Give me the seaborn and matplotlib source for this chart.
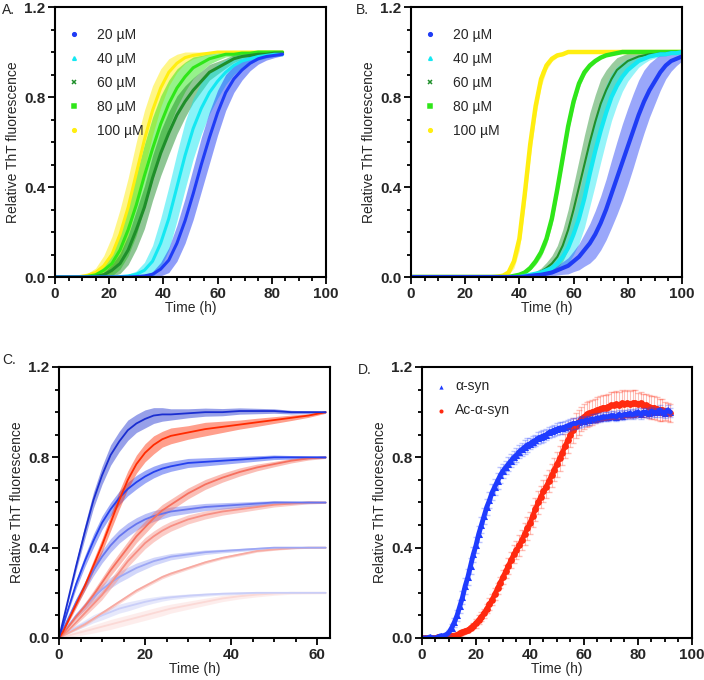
import numpy as np
import seaborn as sns
import matplotlib.pyplot as plt
from matplotlib.ticker import MultipleLocator
from matplotlib.lines import Line2D

sns.set_style('ticks')
plt.rcParams['font.family'] = ['Liberation Sans', 'DejaVu Sans']
plt.rcParams['font.weight'] = 'bold'  # tick labels bold, other text set back to normal

# ---------------- data ----------------
conc_labels = ['20 µM', '40 µM', '60 µM', '80 µM', '100 µM']
conc_colors = ['#1f3cf5', '#14e8f2', '#1f8f2a', '#2fe619', '#ffee10']
conc_markers = ['o', '^', 'x', 's', 'o']

# panel A
time_a = [0, 3, 6, 9, 12, 15, 18, 21, 24, 27, 30, 33, 36, 39, 42, 45, 48, 51, 54, 57,
          60, 63, 66, 69, 72, 75, 78, 81, 84]
a_20 = [0, 0, 0, 0, 0, 0, 0, 0, 0, 0, 0.002, 0.005, 0.012, 0.035, 0.075, 0.15, 0.25, 0.37,
        0.50, 0.62, 0.73, 0.82, 0.88, 0.92, 0.95, 0.97, 0.98, 0.985, 0.99]
a_20_sd = [0, 0, 0, 0, 0, 0, 0, 0, 0, 0, 0.002, 0.005, 0.012, 0.03, 0.055, 0.08, 0.1, 0.115,
           0.12, 0.115, 0.1, 0.08, 0.06, 0.045, 0.033, 0.024, 0.016, 0.01, 0.006]
a_40 = [0, 0, 0, 0, 0, 0, 0, 0, 0.002, 0.005, 0.012, 0.03, 0.07, 0.15, 0.26, 0.40, 0.54, 0.66,
        0.75, 0.82, 0.87, 0.91, 0.94, 0.96, 0.97, 0.98, 0.985, 0.99, 0.99]
a_40_sd = [0, 0, 0, 0, 0, 0, 0, 0, 0.003, 0.007, 0.015, 0.035, 0.07, 0.11, 0.14, 0.15, 0.15,
           0.135, 0.115, 0.095, 0.075, 0.055, 0.04, 0.03, 0.022, 0.016, 0.012, 0.01, 0.008]
a_60 = [0, 0, 0, 0, 0, 0.003, 0.01, 0.03, 0.06, 0.12, 0.21, 0.31, 0.44, 0.55, 0.64, 0.72, 0.78,
        0.83, 0.87, 0.91, 0.93, 0.95, 0.97, 0.98, 0.985, 0.99, 0.99, 0.995, 0.995]
a_60_sd = [0, 0, 0, 0, 0, 0.004, 0.012, 0.025, 0.045, 0.065, 0.085, 0.095, 0.1, 0.1, 0.095,
           0.085, 0.07, 0.055, 0.045, 0.035, 0.028, 0.022, 0.017, 0.012, 0.009, 0.007, 0.005,
           0.004, 0.003]
a_80 = [0, 0, 0, 0, 0.003, 0.01, 0.03, 0.06, 0.12, 0.21, 0.32, 0.45, 0.57, 0.68, 0.77, 0.84, 0.89,
        0.93, 0.95, 0.97, 0.98, 0.99, 0.99, 0.995, 0.995, 1.0, 1.0, 1.0, 1.0]
a_80_sd = [0, 0, 0, 0, 0.004, 0.012, 0.03, 0.055, 0.085, 0.115, 0.135, 0.14, 0.14, 0.125, 0.105,
           0.085, 0.065, 0.048, 0.035, 0.024, 0.017, 0.012, 0.009, 0.007, 0.005, 0.004, 0.003,
           0.002, 0.002]
a_100 = [0, 0, 0, 0.002, 0.008, 0.02, 0.05, 0.10, 0.19, 0.31, 0.46, 0.61, 0.74, 0.84, 0.91, 0.95,
         0.975, 0.985, 0.99, 0.995, 1.0, 1.0, 1.0, 1.0, 1.0, 1.0, 1.0, 1.0, 1.0]
a_100_sd = [0, 0, 0, 0.002, 0.008, 0.02, 0.045, 0.08, 0.11, 0.13, 0.14, 0.13, 0.11, 0.085, 0.06,
            0.04, 0.025, 0.015, 0.01, 0.005, 0, 0, 0, 0, 0, 0, 0, 0, 0]

# panel B
time_b = [0, 10, 20, 30, 32, 34, 36, 38, 40, 42, 44, 46, 48, 50, 52, 54, 56, 58, 60, 62,
          64, 66, 68, 70, 72, 74, 76, 78, 80, 82, 84, 86, 88, 90, 92, 94, 96, 98, 100]
b_20 = [0, 0, 0, 0, 0, 0, 0, 0, 0, 0.002, 0.005, 0.008, 0.01, 0.015, 0.02, 0.03, 0.04, 0.05,
        0.07, 0.09, 0.12, 0.15, 0.19, 0.24, 0.30, 0.37, 0.44, 0.51, 0.58, 0.65, 0.72, 0.78,
        0.83, 0.87, 0.91, 0.94, 0.96, 0.97, 0.98]
b_20_sd = [0, 0, 0, 0, 0, 0, 0, 0, 0, 0.001, 0.003, 0.005, 0.008, 0.012, 0.016, 0.021, 0.028,
           0.036, 0.046, 0.058, 0.072, 0.088, 0.105, 0.12, 0.135, 0.15, 0.162, 0.17, 0.17,
           0.165, 0.155, 0.14, 0.12, 0.1, 0.08, 0.06, 0.045, 0.03, 0.02]
b_40 = [0, 0, 0, 0, 0, 0, 0, 0, 0, 0.005, 0.01, 0.015, 0.02, 0.03, 0.04, 0.06, 0.09, 0.13,
        0.19, 0.26, 0.35, 0.46, 0.56, 0.65, 0.73, 0.80, 0.85, 0.89, 0.92, 0.94, 0.96, 0.97,
        0.98, 0.985, 0.99, 0.99, 0.995, 0.995, 1.0]
b_40_sd = [0, 0, 0, 0, 0, 0, 0, 0, 0, 0.003, 0.006, 0.009, 0.012, 0.018, 0.025, 0.035, 0.05,
           0.07, 0.09, 0.11, 0.13, 0.145, 0.15, 0.14, 0.125, 0.105, 0.085, 0.065, 0.05, 0.038,
           0.028, 0.02, 0.015, 0.012, 0.009, 0.007, 0.005, 0.004, 0.002]
b_60 = [0, 0, 0, 0, 0, 0, 0, 0, 0, 0.005, 0.01, 0.015, 0.025, 0.04, 0.06, 0.09, 0.14, 0.21,
        0.30, 0.40, 0.50, 0.60, 0.69, 0.77, 0.83, 0.88, 0.92, 0.94, 0.96, 0.97, 0.98, 0.985,
        0.99, 0.99, 0.995, 0.995, 1.0, 1.0, 1.0]
b_60_sd = [0, 0, 0, 0, 0, 0, 0, 0, 0, 0.003, 0.006, 0.01, 0.015, 0.025, 0.035, 0.05, 0.07,
           0.09, 0.11, 0.12, 0.13, 0.13, 0.12, 0.11, 0.09, 0.07, 0.055, 0.045, 0.035, 0.025,
           0.02, 0.015, 0.01, 0.008, 0.005, 0.004, 0.002, 0, 0]
b_80 = [0, 0, 0, 0, 0, 0, 0, 0.005, 0.01, 0.02, 0.04, 0.07, 0.11, 0.17, 0.26, 0.39, 0.53,
        0.67, 0.78, 0.86, 0.91, 0.94, 0.96, 0.975, 0.985, 0.99, 0.995, 1.0, 1.0, 1.0, 1.0,
        1.0, 1.0, 1.0, 1.0, 1.0, 1.0, 1.0, 1.0]
b_80_sd = [0, 0, 0, 0, 0, 0, 0, 0.002, 0.004, 0.006, 0.01, 0.015, 0.02, 0.025, 0.03, 0.03,
           0.03, 0.03, 0.025, 0.02, 0.015, 0.01, 0.008, 0.006, 0.004, 0.003, 0.002, 0, 0, 0,
           0, 0, 0, 0, 0, 0, 0, 0, 0]
b_100 = [0, 0, 0, 0, 0.002, 0.006, 0.02, 0.07, 0.17, 0.37, 0.59, 0.76, 0.88, 0.94, 0.97,
         0.985, 0.99, 1.0, 1.0, 1.0, 1.0, 1.0, 1.0, 1.0, 1.0, 1.0, 1.0, 1.0, 1.0, 1.0, 1.0,
         1.0, 1.0, 1.0, 1.0, 1.0, 1.0, 1.0, 1.0]
b_100_sd = [0, 0, 0, 0, 0.002, 0.005, 0.01, 0.03, 0.05, 0.06, 0.06, 0.05, 0.035, 0.02,
            0.012, 0.008, 0.005, 0, 0, 0, 0, 0, 0, 0, 0, 0, 0, 0, 0, 0, 0, 0, 0, 0, 0, 0,
            0, 0, 0]

# panel C (scaled curves, alpha-syn blue / Ac-alpha-syn red)
time_c = [0, 1, 2, 3, 4, 6, 8, 10, 12, 14, 16, 18, 20, 22, 24, 26, 30, 34, 38, 42, 46, 50,
          54, 58, 62]
c_blue_10 = [0, 0.08, 0.16, 0.24, 0.32, 0.47, 0.61, 0.72, 0.81, 0.87, 0.92, 0.95, 0.97,
             0.985, 0.99, 0.99, 0.995, 1.0, 1.0, 1.005, 1.005, 1.005, 1.0, 1.0, 1.0]
c_blue_10_sd = [0, 0.005, 0.01, 0.015, 0.02, 0.03, 0.035, 0.04, 0.045, 0.045, 0.045, 0.04,
                0.04, 0.035, 0.03, 0.025, 0.02, 0.018, 0.016, 0.014, 0.012, 0.01, 0.008,
                0.006, 0.004]
c_blue_08 = [0, 0.06, 0.12, 0.18, 0.24, 0.34, 0.43, 0.51, 0.57, 0.62, 0.66, 0.69, 0.715,
             0.735, 0.75, 0.76, 0.775, 0.78, 0.785, 0.79, 0.795, 0.8, 0.8, 0.8, 0.8]
c_blue_08_sd = [0, 0.005, 0.01, 0.015, 0.02, 0.025, 0.03, 0.03, 0.03, 0.03, 0.03, 0.03,
                0.028, 0.026, 0.024, 0.022, 0.02, 0.018, 0.016, 0.014, 0.012, 0.01, 0.008,
                0.006, 0.005]
c_blue_06 = [0, 0.04, 0.08, 0.12, 0.16, 0.23, 0.30, 0.36, 0.41, 0.45, 0.48, 0.505, 0.525,
             0.54, 0.55, 0.56, 0.57, 0.58, 0.585, 0.59, 0.595, 0.6, 0.6, 0.6, 0.6]
c_blue_06_sd = [0, 0.004, 0.008, 0.012, 0.016, 0.02, 0.025, 0.028, 0.03, 0.03, 0.03, 0.028,
                0.026, 0.024, 0.022, 0.02, 0.018, 0.016, 0.014, 0.012, 0.01, 0.008, 0.006,
                0.005, 0.004]
c_blue_04 = [0, 0.025, 0.05, 0.075, 0.1, 0.14, 0.18, 0.215, 0.245, 0.27, 0.29, 0.31, 0.325,
             0.34, 0.35, 0.36, 0.37, 0.38, 0.385, 0.39, 0.395, 0.4, 0.4, 0.4, 0.4]
c_blue_04_sd = [0, 0.003, 0.006, 0.009, 0.012, 0.016, 0.02, 0.022, 0.024, 0.024, 0.024,
                0.022, 0.02, 0.018, 0.016, 0.014, 0.012, 0.01, 0.008, 0.007, 0.006, 0.005,
                0.004, 0.003, 0.003]
c_blue_02 = [0, 0.012, 0.024, 0.035, 0.046, 0.065, 0.085, 0.10, 0.115, 0.13, 0.14, 0.15,
             0.16, 0.168, 0.175, 0.18, 0.187, 0.192, 0.196, 0.198, 0.2, 0.2, 0.2, 0.2, 0.2]
c_blue_02_sd = [0, 0.003, 0.006, 0.009, 0.012, 0.015, 0.018, 0.02, 0.02, 0.02, 0.02, 0.018,
                0.016, 0.014, 0.012, 0.01, 0.008, 0.007, 0.006, 0.005, 0.004, 0.003, 0.003,
                0.002, 0.002]
c_red_10 = [0, 0.03, 0.07, 0.11, 0.15, 0.23, 0.32, 0.41, 0.51, 0.61, 0.70, 0.77, 0.82, 0.855,
            0.88, 0.895, 0.91, 0.925, 0.935, 0.945, 0.955, 0.965, 0.975, 0.985, 1.0]
c_red_10_sd = [0, 0.004, 0.008, 0.012, 0.015, 0.02, 0.025, 0.03, 0.035, 0.04, 0.04, 0.04,
               0.04, 0.04, 0.035, 0.035, 0.03, 0.03, 0.025, 0.02, 0.018, 0.015, 0.012, 0.008,
               0.005]
c_red_08 = [0, 0.02, 0.045, 0.07, 0.095, 0.14, 0.19, 0.245, 0.30, 0.35, 0.40, 0.45, 0.49,
            0.53, 0.565, 0.59, 0.64, 0.68, 0.71, 0.735, 0.755, 0.77, 0.785, 0.795, 0.8]
c_red_08_sd = [0, 0.003, 0.006, 0.009, 0.012, 0.016, 0.02, 0.022, 0.025, 0.027, 0.028, 0.028,
               0.028, 0.027, 0.026, 0.025, 0.024, 0.022, 0.02, 0.018, 0.015, 0.012, 0.01,
               0.007, 0.005]
c_red_06 = [0, 0.015, 0.03, 0.05, 0.07, 0.11, 0.15, 0.19, 0.24, 0.29, 0.34, 0.38, 0.42, 0.45,
            0.475, 0.495, 0.525, 0.545, 0.56, 0.57, 0.58, 0.59, 0.595, 0.6, 0.6]
c_red_06_sd = [0, 0.003, 0.006, 0.008, 0.01, 0.014, 0.018, 0.02, 0.022, 0.024, 0.025, 0.025,
               0.025, 0.024, 0.023, 0.022, 0.02, 0.018, 0.016, 0.014, 0.012, 0.01, 0.008,
               0.006, 0.004]
c_red_04 = [0, 0.01, 0.02, 0.03, 0.04, 0.06, 0.085, 0.11, 0.135, 0.16, 0.185, 0.21, 0.23,
            0.25, 0.27, 0.285, 0.31, 0.335, 0.355, 0.37, 0.385, 0.392, 0.397, 0.4, 0.4]
c_red_04_sd = [0, 0.002, 0.003, 0.004, 0.005, 0.006, 0.007, 0.008, 0.008, 0.008, 0.008,
               0.008, 0.008, 0.008, 0.008, 0.008, 0.007, 0.007, 0.006, 0.006, 0.005, 0.004,
               0.003, 0.003, 0.002]
c_red_02 = [0, 0.005, 0.01, 0.015, 0.02, 0.03, 0.04, 0.05, 0.06, 0.07, 0.08, 0.09, 0.10,
            0.11, 0.12, 0.13, 0.145, 0.16, 0.175, 0.185, 0.192, 0.197, 0.2, 0.2, 0.2]
c_red_02_sd = [0, 0.003, 0.006, 0.009, 0.012, 0.015, 0.018, 0.02, 0.022, 0.022, 0.022,
               0.022, 0.022, 0.022, 0.022, 0.02, 0.018, 0.016, 0.014, 0.012, 0.01, 0.008,
               0.006, 0.005, 0.004]

# panel D (raw kinetics, one point per hour)
time_d = list(range(0, 93))
d_syn = [0.0, 0.0, 0.0, 0.005, 0.0, 0.0, 0.005, 0.01, 0.01, 0.015,
         0.025, 0.045, 0.07, 0.10, 0.14, 0.18, 0.23, 0.27, 0.32, 0.37,
         0.41, 0.46, 0.50, 0.54, 0.58, 0.61, 0.645, 0.67, 0.695, 0.72,
         0.74, 0.755, 0.77, 0.785, 0.80, 0.81, 0.825, 0.835, 0.845, 0.855,
         0.86, 0.87, 0.875, 0.885, 0.89, 0.895, 0.90, 0.91, 0.915, 0.92,
         0.925, 0.93, 0.93, 0.935, 0.94, 0.945, 0.95, 0.95, 0.955, 0.96,
         0.96, 0.965, 0.965, 0.97, 0.97, 0.975, 0.975, 0.98, 0.98, 0.98,
         0.985, 0.985, 0.98, 0.99, 0.985, 0.99, 0.99, 0.995, 0.99, 0.995,
         1.0, 0.99, 1.0, 1.0, 0.995, 1.005, 1.0, 1.0, 1.01, 1.0,
         0.995, 1.01, 1.0]
d_syn_sd = [0.005, 0.005, 0.005, 0.005, 0.005, 0.005, 0.005, 0.005, 0.005, 0.005,
            0.01, 0.015, 0.02, 0.025, 0.03, 0.03, 0.035, 0.035, 0.035, 0.035,
            0.035, 0.035, 0.035, 0.035, 0.035, 0.035, 0.035, 0.035, 0.035, 0.035,
            0.03, 0.03, 0.03, 0.03, 0.03, 0.03, 0.03, 0.03, 0.03, 0.03,
            0.025, 0.025, 0.025, 0.025, 0.025, 0.025, 0.025, 0.025, 0.025, 0.025,
            0.025, 0.025, 0.025, 0.025, 0.025, 0.025, 0.025, 0.025, 0.025, 0.025,
            0.02, 0.02, 0.02, 0.02, 0.02, 0.02, 0.02, 0.02, 0.02, 0.02,
            0.02, 0.02, 0.02, 0.02, 0.02, 0.02, 0.02, 0.02, 0.02, 0.02,
            0.02, 0.02, 0.02, 0.02, 0.02, 0.02, 0.02, 0.02, 0.02, 0.02,
            0.02, 0.02, 0.02]
d_acsyn = [0.0, 0.0, 0.0, 0.0, 0.0, 0.0, 0.005, 0.0, 0.005, 0.005,
           0.005, 0.01, 0.01, 0.015, 0.02, 0.025, 0.03, 0.035, 0.045, 0.055,
           0.065, 0.08, 0.095, 0.11, 0.13, 0.15, 0.17, 0.195, 0.22, 0.245,
           0.27, 0.295, 0.32, 0.345, 0.37, 0.39, 0.41, 0.435, 0.46, 0.485,
           0.51, 0.54, 0.57, 0.60, 0.625, 0.65, 0.67, 0.695, 0.72, 0.745,
           0.77, 0.795, 0.82, 0.85, 0.875, 0.90, 0.92, 0.94, 0.955, 0.97,
           0.98, 0.99, 0.995, 1.0, 1.005, 1.01, 1.015, 1.02, 1.02, 1.025,
           1.03, 1.03, 1.035, 1.03, 1.04, 1.035, 1.04, 1.035, 1.04, 1.04,
           1.035, 1.04, 1.03, 1.03, 1.025, 1.02, 1.02, 1.015, 1.01, 1.01,
           1.005, 1.0, 0.995]
d_acsyn_sd = [0.005, 0.005, 0.005, 0.005, 0.005, 0.005, 0.005, 0.005, 0.005, 0.005,
              0.01, 0.01, 0.01, 0.01, 0.01, 0.01, 0.01, 0.01, 0.01, 0.01,
              0.02, 0.02, 0.02, 0.02, 0.02, 0.025, 0.025, 0.025, 0.025, 0.025,
              0.03, 0.03, 0.035, 0.035, 0.04, 0.04, 0.045, 0.045, 0.05, 0.05,
              0.05, 0.05, 0.05, 0.05, 0.05, 0.05, 0.05, 0.05, 0.05, 0.05,
              0.055, 0.055, 0.055, 0.055, 0.055, 0.055, 0.055, 0.055, 0.055, 0.055,
              0.055, 0.055, 0.055, 0.055, 0.055, 0.055, 0.055, 0.055, 0.055, 0.055,
              0.06, 0.06, 0.06, 0.06, 0.06, 0.06, 0.06, 0.06, 0.06, 0.06,
              0.05, 0.05, 0.05, 0.05, 0.05, 0.05, 0.05, 0.05, 0.05, 0.05,
              0.04, 0.04, 0.04]
d_labels = ['α-syn', 'Ac-α-syn']
d_colors = ['#1f3cff', '#ff2a10']

normal = {'size': 10, 'weight': 'normal'}


def band(ax, t, mean, sd, color, lw, alpha):
    mean = np.array(mean)
    sd = np.array(sd)
    ax.fill_between(t, mean - sd, mean + sd, color=color, alpha=alpha, lw=0)
    sns.lineplot(x=t, y=mean, ax=ax, color=color, lw=lw)


def style(ax, xmax, xmajor):
    ax.set_xlim(0, xmax)
    ax.set_ylim(0, 1.2)
    ax.xaxis.set_major_locator(MultipleLocator(xmajor))
    ax.xaxis.set_minor_locator(MultipleLocator(5))
    ax.yaxis.set_major_locator(MultipleLocator(0.4))
    ax.yaxis.set_minor_locator(MultipleLocator(0.1))
    ax.yaxis.set_major_formatter('{x:.1f}')
    ax.tick_params(which='both', direction='out', width=1.3, color='black')
    ax.tick_params(which='major', length=5, labelsize=11, pad=2)
    ax.tick_params(which='minor', length=3)
    for sp in ax.spines.values():
        sp.set_visible(True)
        sp.set_linewidth(1.5)
        sp.set_color('black')
    ax.set_xlabel('Time (h)', fontdict=normal, labelpad=0)
    ax.set_ylabel('Relative ThT fluorescence', fontdict=normal, labelpad=3)


def conc_legend(ax):
    handles = []
    for c, m in zip(conc_colors, conc_markers):
        handles.append(Line2D([], [], ls='none', marker=m, color=c, ms=2.6, mew=1.1))
    ax.legend(handles, conc_labels, loc='upper left', frameon=False, prop=normal,
              handlelength=1, handletextpad=1.1, labelspacing=0.72,
              bbox_to_anchor=(0.0, 0.97))


fig = plt.figure(figsize=(7.04, 6.8), dpi=100)
axA = fig.add_axes([0.0781, 0.5926, 0.3849, 0.3971])
axB = fig.add_axes([0.5838, 0.5926, 0.3849, 0.3971])
axC = fig.add_axes([0.0838, 0.0618, 0.3849, 0.3985])
axD = fig.add_axes([0.5994, 0.0618, 0.3835, 0.3985])

# A: lower concentrations drawn on top
a_means = [a_20, a_40, a_60, a_80, a_100]
a_sds = [a_20_sd, a_40_sd, a_60_sd, a_80_sd, a_100_sd]
for i in [4, 3, 2, 1, 0]:
    band(axA, time_a, a_means[i], a_sds[i], conc_colors[i], 2.2, 0.5)
style(axA, 100, 20)
conc_legend(axA)

b_means = [b_20, b_40, b_60, b_80, b_100]
b_sds = [b_20_sd, b_40_sd, b_60_sd, b_80_sd, b_100_sd]
b_lw = [3, 3, 1.5, 3.2, 3.2]
for i in [4, 3, 2, 1, 0]:
    band(axB, time_b, b_means[i], b_sds[i], conc_colors[i], b_lw[i], 0.45)
style(axB, 100, 20)
conc_legend(axB)

# C: faint curves first, darkest last
c_blue = [(c_blue_02, c_blue_02_sd, '#c9cef8'), (c_blue_04, c_blue_04_sd, '#9da7f4'),
          (c_blue_06, c_blue_06_sd, '#6675ee'), (c_blue_08, c_blue_08_sd, '#2440ee'),
          (c_blue_10, c_blue_10_sd, '#1a2ed0')]
c_red = [(c_red_02, c_red_02_sd, '#fbd9d6'), (c_red_04, c_red_04_sd, '#f7aaa2'),
         (c_red_06, c_red_06_sd, '#f78f84'), (c_red_08, c_red_08_sd, '#f6705f'),
         (c_red_10, c_red_10_sd, '#ff2a00')]
for (rm, rs, rc), (bm, bs, bc) in zip(c_red, c_blue):
    band(axC, time_c, rm, rs, rc, 1.3, 0.45)
    band(axC, time_c, bm, bs, bc, 1.3, 0.45)
style(axC, 63, 20)

# D: error bars + dense markers
axD.errorbar(time_d, d_acsyn, yerr=d_acsyn_sd, fmt='none', ecolor=d_colors[1], alpha=0.3,
             elinewidth=0.8, capsize=2)
sns.lineplot(x=time_d, y=d_acsyn, ax=axD, color=d_colors[1], lw=3.5)
sns.scatterplot(x=time_d, y=d_acsyn, ax=axD, color=d_colors[1], marker='o', s=24,
                linewidth=0, label=d_labels[1])
axD.errorbar(time_d, d_syn, yerr=d_syn_sd, fmt='none', ecolor=d_colors[0], alpha=0.3,
             elinewidth=0.8, capsize=2)
sns.lineplot(x=time_d, y=d_syn, ax=axD, color=d_colors[0], lw=3.5)
sns.scatterplot(x=time_d, y=d_syn, ax=axD, color=d_colors[0], marker='^', s=26,
                linewidth=0, label=d_labels[0])
style(axD, 100, 20)
hd, ld = axD.get_legend_handles_labels()
axD.legend(hd[::-1], ld[::-1], loc='upper left', frameon=False, prop=normal,
           handlelength=1, handletextpad=0.5, labelspacing=0.72, markerscale=0.6,
           bbox_to_anchor=(0.0, 1.0))

fig.text(0.003, 0.995, 'A.', fontdict=normal, va='top')
fig.text(0.505, 0.995, 'B.', fontdict=normal, va='top')
fig.text(0.003, 0.481, 'C.', fontdict=normal, va='top')
fig.text(0.508, 0.466, 'D.', fontdict=normal, va='top')

fig.savefig('out.png', dpi=100)
